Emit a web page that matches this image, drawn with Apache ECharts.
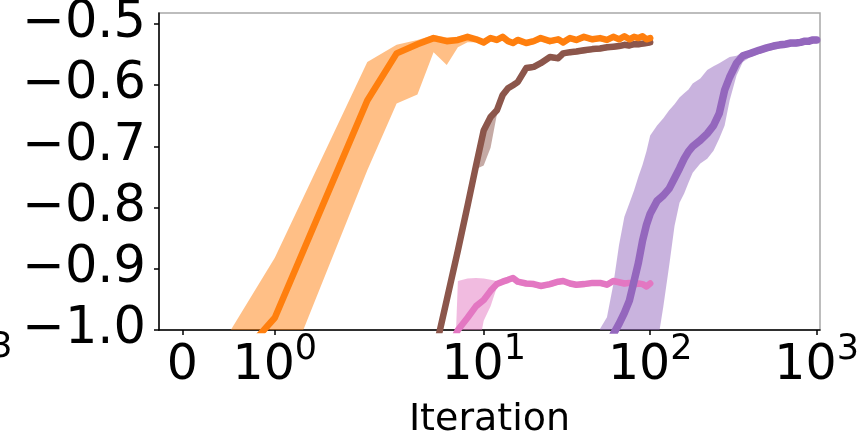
<!DOCTYPE html>
<html><head><meta charset="utf-8">
<script src="https://cdn.jsdelivr.net/npm/echarts@6/dist/echarts.min.js"></script>
<style>html,body{margin:0;padding:0;background:#fff}#c{width:866px;height:432px}</style>
</head><body><div id="c"></div>
<script>
// ---- data (iterations are real values; x axis is symlog, linthresh=2) ----
const xTickValues = [0, 1, 10, 100, 1000];
const xTickLabels = [['0', ''], ['10', '0'], ['10', '1'], ['10', '2'], ['10', '3']];
const yTickValues = [-1.0, -0.9, -0.8, -0.7, -0.6, -0.5];
const xAxisTitle = 'Iteration';

const shortIters = [0,1,2,3,4,5,6,7,8,9,10,11,12,13,14,15,16,18,20,22,25,28,30,33,36,40,45,50,55,60,65,70,75,80,85,90,95,100];

const orangeMean = [-1.15,-0.980,-0.625,-0.548,-0.533,-0.523,-0.528,-0.526,-0.521,-0.525,-0.530,-0.523,-0.526,-0.521,-0.528,-0.531,-0.526,-0.531,-0.528,-0.523,-0.528,-0.525,-0.530,-0.523,-0.526,-0.521,-0.525,-0.523,-0.526,-0.521,-0.525,-0.520,-0.525,-0.521,-0.523,-0.520,-0.525,-0.523];
const orangeUpper = [-1.13,-0.882,-0.562,-0.534,-0.526,-0.518,-0.522,-0.521,-0.517,-0.521,-0.526,-0.519,-0.522,-0.517,-0.524,-0.527,-0.522,-0.527,-0.524,-0.519,-0.524,-0.521,-0.526,-0.519,-0.522,-0.517,-0.521,-0.519,-0.522,-0.517,-0.521,-0.516,-0.521,-0.517,-0.519,-0.516,-0.521,-0.519];
const orangeLower = [-1.35,-1.116,-0.739,-0.630,-0.615,-0.546,-0.567,-0.538,-0.530,-0.530,-0.535,-0.528,-0.531,-0.526,-0.533,-0.536,-0.531,-0.536,-0.533,-0.528,-0.533,-0.530,-0.535,-0.528,-0.531,-0.526,-0.530,-0.528,-0.531,-0.526,-0.530,-0.525,-0.530,-0.526,-0.528,-0.525,-0.530,-0.528];

const brownMean = [-1.9,-1.7,-1.5,-1.35,-1.2,-1.046,-0.951,-0.870,-0.797,-0.731,-0.674,-0.652,-0.641,-0.616,-0.605,-0.600,-0.595,-0.572,-0.570,-0.564,-0.554,-0.556,-0.548,-0.546,-0.545,-0.543,-0.541,-0.540,-0.538,-0.537,-0.536,-0.534,-0.535,-0.533,-0.533,-0.532,-0.531,-0.530];
const brownUpper = [-1.85,-1.65,-1.45,-1.3,-1.15,-1.04,-0.945,-0.864,-0.790,-0.722,-0.668,-0.647,-0.636,-0.612,-0.601,-0.596,-0.591,-0.568,-0.566,-0.560,-0.550,-0.552,-0.544,-0.542,-0.541,-0.539,-0.537,-0.536,-0.534,-0.533,-0.532,-0.530,-0.531,-0.529,-0.529,-0.528,-0.527,-0.526];
const brownLower = [-1.95,-1.75,-1.55,-1.4,-1.25,-1.06,-0.965,-0.877,-0.803,-0.737,-0.731,-0.702,-0.648,-0.621,-0.610,-0.605,-0.600,-0.577,-0.575,-0.569,-0.559,-0.561,-0.553,-0.551,-0.550,-0.548,-0.546,-0.545,-0.543,-0.542,-0.541,-0.539,-0.540,-0.538,-0.538,-0.537,-0.536,-0.535];

const pinkMean = [-1.6,-1.5,-1.4,-1.3,-1.2,-1.1,-1.04,-1.0,-0.980,-0.961,-0.951,-0.936,-0.925,-0.921,-0.918,-0.915,-0.921,-0.924,-0.925,-0.928,-0.925,-0.921,-0.920,-0.924,-0.926,-0.925,-0.923,-0.923,-0.926,-0.920,-0.922,-0.924,-0.923,-0.926,-0.924,-0.925,-0.929,-0.924];
const pinkUpper = [-1.6,-1.6,-1.6,-1.6,-1.6,-1.6,-1.4,-0.920,-0.916,-0.915,-0.916,-0.918,-0.920,-0.917,-0.914,-0.911,-0.917,-0.920,-0.921,-0.924,-0.921,-0.917,-0.916,-0.920,-0.922,-0.921,-0.919,-0.919,-0.922,-0.916,-0.918,-0.920,-0.919,-0.922,-0.920,-0.921,-0.925,-0.920];
const pinkLower = [-1.7,-1.7,-1.7,-1.7,-1.7,-1.7,-1.5,-1.2,-1.12,-1.05,-0.985,-0.961,-0.930,-0.926,-0.923,-0.920,-0.926,-0.929,-0.930,-0.933,-0.930,-0.926,-0.925,-0.929,-0.931,-0.930,-0.928,-0.928,-0.931,-0.925,-0.927,-0.929,-0.928,-0.931,-0.929,-0.930,-0.934,-0.929];

const longIters = [0,10,20,30,40,50,55,60,65,70,75,80,85,90,95,100,110,120,130,140,150,160,170,180,200,220,240,260,280,300,330,360,400,450,500,550,600,650,700,750,800,850,900,950,1000];
const purpleMean = [-2.0,-1.9,-1.6,-1.35,-1.15,-1.07,-1.034,-1.007,-0.990,-0.972,-0.952,-0.920,-0.890,-0.854,-0.828,-0.810,-0.789,-0.780,-0.769,-0.752,-0.736,-0.720,-0.708,-0.700,-0.690,-0.679,-0.666,-0.646,-0.608,-0.587,-0.564,-0.552,-0.548,-0.543,-0.539,-0.536,-0.534,-0.533,-0.531,-0.531,-0.530,-0.528,-0.528,-0.526,-0.526];
const purpleUpper = [-1.95,-1.85,-1.55,-1.3,-1.1,-0.998,-0.979,-0.926,-0.861,-0.815,-0.793,-0.772,-0.749,-0.730,-0.708,-0.682,-0.666,-0.654,-0.641,-0.631,-0.620,-0.613,-0.607,-0.597,-0.589,-0.575,-0.569,-0.564,-0.559,-0.554,-0.552,-0.546,-0.543,-0.538,-0.534,-0.531,-0.529,-0.528,-0.526,-0.526,-0.525,-0.523,-0.523,-0.521,-0.521];
const purpleLower = [-2.2,-2.1,-1.8,-1.6,-1.45,-1.3,-1.28,-1.25,-1.22,-1.2,-1.18,-1.15,-1.13,-1.1,-1.08,-1.05,-1.026,-0.961,-0.895,-0.830,-0.792,-0.777,-0.759,-0.743,-0.728,-0.720,-0.707,-0.687,-0.666,-0.625,-0.584,-0.562,-0.554,-0.549,-0.545,-0.542,-0.540,-0.539,-0.537,-0.537,-0.536,-0.534,-0.534,-0.532,-0.532];

// ---- symlog scale (matplotlib: base 10, linthresh 2, linscale 1) ----
const LT = 2, LS = 1 / (1 - 1 / 10);
function symlog(x) {
  const a = Math.abs(x);
  return a <= LT ? x * LS : Math.sign(x) * LT * (LS + Math.log10(a / LT));
}
const FONT = 'DejaVu Sans';
const C = {
  orange: ['#ff7f0e', 'rgba(255,127,14,0.5)'],
  brown: ['#8c564b', 'rgba(140,86,75,0.5)'],
  pink: ['#e377c2', 'rgba(227,119,194,0.5)'],
  purple: ['#9467bd', 'rgba(148,103,189,0.5)']
};
function pairs(xs, ys) { return xs.map((x, i) => [symlog(x), ys[i]]); }
function band(name, xs, lo, hi, fill) {
  const data = xs.map((x, i) => [symlog(x), lo[i], hi[i]]);
  return {
    type: 'custom', name: name + '-band', data: data, clip: true, silent: true, z: 1,
    encode: { x: 0, y: [1, 2] },
    renderItem: function (params, api) {
      if (params.dataIndex !== 0) return null;
      const top = data.map(d => api.coord([d[0], d[2]]));
      const bot = data.map(d => api.coord([d[0], d[1]])).reverse();
      const cs = params.coordSys;
      return {
        type: 'polygon', shape: { points: top.concat(bot) }, style: { fill: fill, stroke: null },
        clipPath: { type: 'rect', shape: { x: cs.x, y: cs.y, width: cs.width, height: cs.height } }
      };
    }
  };
}
function line(name, xs, ys, color, w) {
  return { type: 'line', name: name, data: pairs(xs, ys), symbol: 'none', clip: true, silent: true, z: 3,
    lineStyle: { color: color, width: w, cap: 'round', join: 'round' } };
}

const xTickPos = xTickValues.map(symlog);
const chart = echarts.init(document.getElementById('c'), null, { renderer: 'canvas' });
chart.setOption({
  animation: false,
  backgroundColor: '#fff',
  grid: { left: 159, right: 46, top: 13, bottom: 102, outerBoundsMode: 'none', containLabel: false,
    show: true, borderColor: '#a8a8a8', borderWidth: 1.5, backgroundColor: 'transparent' },
  xAxis: {
    type: 'value', min: -0.28, max: 7.66,
    name: xAxisTitle, nameLocation: 'middle', nameGap: 71, nameMoveOverlap: false,
    nameTextStyle: { fontFamily: FONT, fontSize: 38, color: '#000', verticalAlign: 'top' },
    axisLine: { show: true, onZero: false, lineStyle: { color: '#000', width: 1.5 } },
    axisTick: { show: true, inside: false, length: 5, lineStyle: { color: '#000', width: 1.5 }, customValues: xTickPos },
    splitLine: { show: false },
    axisLabel: {
      customValues: xTickPos, margin: 2,
      formatter: function (v) {
        let i = xTickPos.findIndex(p => Math.abs(p - v) < 1e-6);
        if (i < 0) return '';
        const l = xTickLabels[i];
        return l[1] ? '{b|' + l[0] + '}{s|' + l[1] + '}' : '{b|' + l[0] + '}';
      },
      rich: {
        b: { fontFamily: FONT, fontSize: 49, lineHeight: 68, color: '#000' },
        s: { fontFamily: FONT, fontSize: 35, lineHeight: 68, color: '#000', padding: [0, 0, 33, 0] }
      }
    }
  },
  yAxis: {
    type: 'value', min: -1.0, max: -0.482,
    axisLine: { show: true, onZero: false, lineStyle: { color: '#000', width: 1.5 } },
    axisTick: { show: true, inside: false, length: 5, lineStyle: { color: '#000', width: 1.5 }, customValues: yTickValues },
    splitLine: { show: false },
    axisLabel: {
      customValues: yTickValues, margin: 13,
      fontFamily: FONT, fontSize: 51, color: '#000',
      formatter: v => (v < 0 ? '\u2212' : '') + Math.abs(v).toFixed(1)
    }
  },
  graphic: [
    { type: 'text', style: { x: 12.5, y: 348, text: '3', fontFamily: FONT, fontSize: 35, fill: '#000', textAlign: 'right', textVerticalAlign: 'middle' } }
  ],
  series: [
    band('orange', shortIters, orangeLower, orangeUpper, C.orange[1]),
    band('purple', longIters, purpleLower, purpleUpper, C.purple[1]),
    band('brown', shortIters, brownLower, brownUpper, C.brown[1]),
    band('pink', shortIters, pinkLower, pinkUpper, C.pink[1]),
    line('brown', shortIters, brownMean, C.brown[0], 6.5),
    line('pink', shortIters, pinkMean, C.pink[0], 6.5),
    line('orange', shortIters, orangeMean, C.orange[0], 6.5),
    line('purple', longIters, purpleMean, C.purple[0], 7.5)
  ]
});
</script>
</body></html>
